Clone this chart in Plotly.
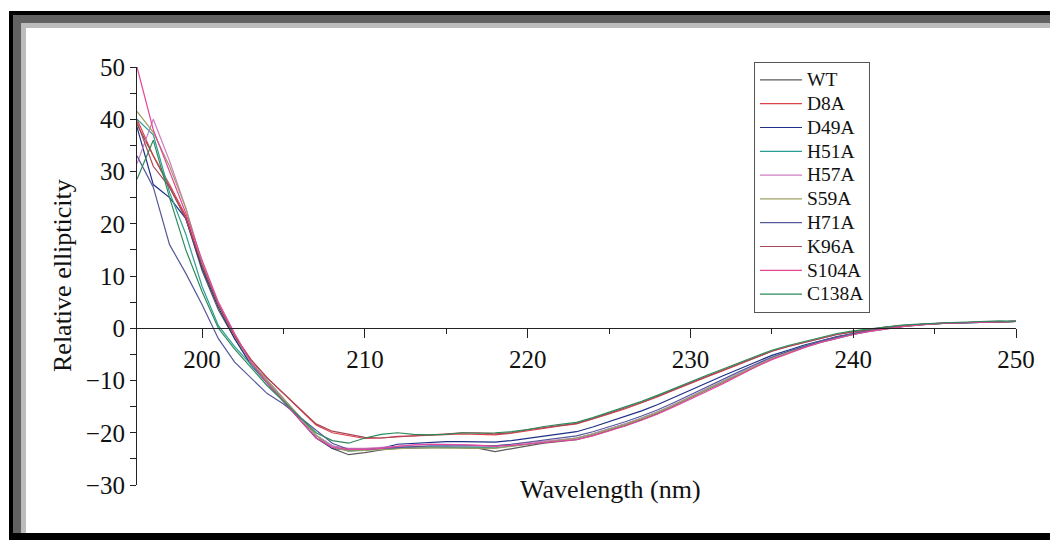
import plotly.graph_objects as go

wavelength = list(range(196, 251))

series_names = ["WT", "D8A", "D49A", "H51A", "H57A", "S59A", "H71A", "K96A", "S104A", "C138A"]
series_colors = ["#5a5a5a", "#e0404a", "#1e2f88", "#2a9e94", "#d07cc4", "#9ea064",
                 "#56589a", "#a84858", "#e2489c", "#2e8a5a"]

WT = [39, 33, 27, 21, 11, 3.5, -2, -6.5, -10, -13.5,
      -17, -20.5, -23, -24.2, -23.8, -23.3, -23, -22.9, -22.8, -22.8,
      -22.9, -23, -23.6, -23, -22.5, -22, -21.6, -21.3, -20.5, -19.6,
      -18.6, -17.5, -16.3, -14.8, -13.3, -11.8, -10.3, -8.8, -7.3, -5.9,
      -4.7, -3.6, -2.7, -1.9, -1.2, -0.6, -0.1, 0.3, 0.6, 0.9,
      1.0, 1.1, 1.2, 1.3, 1.3]
D8A = [40, 33, 27.5, 21.5, 12, 4.5, -1.5, -6, -9.5, -12.5,
       -15.5, -18.5, -20, -20.6, -21.1, -21, -20.7, -20.6, -20.5, -20.3,
       -20.2, -20.3, -20.4, -20.1, -19.6, -19.1, -18.7, -18.3, -17.4, -16.4,
       -15.4, -14.3, -13.1, -11.8, -10.5, -9.3, -8.1, -6.9, -5.6, -4.4,
       -3.5, -2.7, -1.9, -1.2, -0.7, -0.2, 0.2, 0.5, 0.7, 0.9,
       1.0, 1.1, 1.2, 1.3, 1.3]
D49A = [38.5, 27.5, 25, 21, 11.5, 4, -2, -7, -10.5, -14,
        -17.5, -21, -23, -23.3, -23.3, -23, -22.2, -22, -21.8, -21.7,
        -21.7, -21.8, -21.8, -21.5, -21.1, -20.6, -20.2, -19.8, -18.9, -17.9,
        -16.9, -15.8, -14.6, -13.2, -11.8, -10.4, -9.1, -7.8, -6.5, -5.2,
        -4.2, -3.2, -2.4, -1.6, -1.0, -0.4, 0.0, 0.4, 0.7, 0.9,
        1.0, 1.1, 1.2, 1.3, 1.3]
H51A = [40, 37, 26, 18, 8, 0.5, -3.5, -7, -10.5, -13.8,
        -17, -20.5, -22.5, -23.5, -23.3, -23, -22.8, -22.7, -22.7, -22.7,
        -22.8, -22.8, -22.9, -22.6, -22.2, -21.8, -21.4, -21, -20.2, -19.3,
        -18.3, -17.2, -16, -14.6, -13.1, -11.6, -10.1, -8.6, -7.1, -5.7,
        -4.5, -3.4, -2.5, -1.7, -1.0, -0.4, 0.0, 0.4, 0.7, 0.9,
        1.0, 1.1, 1.2, 1.3, 1.3]
H57A = [31.5, 40, 32, 23, 12.5, 4.5, -1.5, -6.5, -10, -13.5,
        -17, -20.5, -22.5, -23, -23, -22.8, -22.5, -22.3, -22.2, -22.2,
        -22.3, -22.4, -22.5, -22.2, -21.9, -21.6, -21.3, -21, -20.2, -19.3,
        -18.3, -17.2, -16, -14.6, -13.1, -11.6, -10.1, -8.6, -7.1, -5.7,
        -4.6, -3.5, -2.6, -1.8, -1.1, -0.5, 0.0, 0.4, 0.7, 0.9,
        1.0, 1.1, 1.2, 1.3, 1.3]
S59A = [41.5, 37.5, 31, 23, 12.5, 4.5, -1.5, -6.5, -10, -13.5,
        -17, -20.5, -22.8, -23.5, -23.4, -23.2, -23, -22.9, -22.9, -22.9,
        -22.9, -22.9, -23, -22.6, -22.2, -21.8, -21.4, -21, -20.3, -19.4,
        -18.4, -17.3, -16.1, -14.7, -13.2, -11.7, -10.2, -8.7, -7.2, -5.8,
        -4.6, -3.5, -2.6, -1.8, -1.1, -0.5, 0.0, 0.4, 0.7, 0.9,
        1.0, 1.1, 1.2, 1.3, 1.3]
H71A = [33, 27, 16, 10.5, 4.5, -2, -6.5, -9.5, -12.5, -14.5,
        -17, -19.5, -22, -23.2, -23.2, -23, -22.8, -22.6, -22.5, -22.5,
        -22.5, -22.5, -22.5, -22.2, -21.8, -21.4, -21, -20.6, -19.8, -18.9,
        -17.9, -16.8, -15.6, -14.2, -12.7, -11.2, -9.7, -8.3, -6.9, -5.5,
        -4.4, -3.4, -2.5, -1.7, -1.0, -0.4, 0.0, 0.4, 0.7, 0.9,
        1.0, 1.1, 1.2, 1.3, 1.3]
K96A = [39.5, 31, 27, 21, 12, 4.5, -1.5, -6, -9.5, -12.5,
        -15.5, -18.3, -19.7, -20.3, -20.9, -21, -20.8, -20.6, -20.4, -20.2,
        -20.0, -20.0, -20.2, -20.0, -19.4, -19.0, -18.6, -18.2, -17.3, -16.3,
        -15.3, -14.2, -13.0, -11.7, -10.4, -9.2, -8.0, -6.8, -5.5, -4.4,
        -3.5, -2.7, -1.9, -1.2, -0.7, -0.2, 0.2, 0.5, 0.7, 0.9,
        1.0, 1.1, 1.2, 1.3, 1.3]
S104A = [50, 38, 30, 22, 13, 5, -1, -6.5, -10.5, -14,
         -17.5, -21, -22.8, -23.2, -23.2, -23, -22.6, -22.3, -22.2, -22.2,
         -22.3, -22.4, -22.6, -22.4, -22.1, -21.8, -21.5, -21.3, -20.6, -19.7,
         -18.7, -17.6, -16.4, -15, -13.6, -12.1, -10.6, -9.0, -7.4, -6.0,
         -4.8, -3.7, -2.7, -1.9, -1.2, -0.6, -0.1, 0.3, 0.6, 0.9,
         1.0, 1.1, 1.2, 1.3, 1.3]
C138A = [28.5, 36, 25, 15, 7, 0, -4, -7.5, -11, -14,
         -17, -20, -21.5, -22, -21, -20.3, -20, -20.3, -20.4, -20.3,
         -20.0, -20.1, -20.0, -19.8, -19.4, -18.8, -18.4, -18.0, -17.1, -16.1,
         -15.1, -14.0, -12.8, -11.5, -10.2, -9.0, -7.8, -6.6, -5.4, -4.2,
         -3.3, -2.5, -1.7, -1.0, -0.5, -0.1, 0.3, 0.6, 0.8, 1.0,
         1.1, 1.2, 1.3, 1.4, 1.3]

series_values = [WT, D8A, D49A, H51A, H57A, S59A, H71A, K96A, S104A, C138A]

x_range = [196, 250]
y_range = [-30, 50]
x_ticks = [200, 210, 220, 230, 240, 250]
y_ticks = [-30, -20, -10, 0, 10, 20, 30, 40, 50]

# page body adds an 8px offset; lay the figure out in window pixels
OFF = 8
W, H = 1058 - OFF, 540 - OFF
PLOT_L, PLOT_R, PLOT_T, PLOT_B = 137, 1016, 67, 485
ML, MR = PLOT_L - OFF, W - (PLOT_R - OFF)
MT, MB = PLOT_T - OFF, H - (PLOT_B - OFF)
PW, PH = W - ML - MR, H - MT - MB
FONT = "Liberation Serif, Times New Roman, serif"


def px2x(px):
    return (px - OFF - ML) / PW


def px2y(py):
    return (H - MB - (py - OFF)) / PH


fig = go.Figure()
for name, color, vals in zip(series_names, series_colors, series_values):
    fig.add_trace(go.Scatter(x=wavelength, y=vals, mode="lines",
                             name="<span style='font-size:19.5px'>" + name + "</span>",
                             line=dict(color=color, width=1.2)))

shapes = []
for (x0, y0, x1, y1, c) in [(9, 11, 1070, 552, "#000000"),
                            (13, 15, 1054, 533, "#626262"),
                            (21, 23, 1054, 533, "#bcbcbc"),
                            (26, 28, 1054, 533, "#ffffff")]:
    shapes.append(dict(type="rect", xref="paper", yref="paper",
                       x0=px2x(x0), x1=px2x(x1), y0=px2y(y1), y1=px2y(y0),
                       fillcolor=c, line=dict(width=0), layer="below"))

fig.update_layout(
    width=W, height=H,
    margin=dict(l=ML, r=MR, t=MT, b=MB),
    paper_bgcolor="white", plot_bgcolor="rgba(0,0,0,0)",
    font=dict(family=FONT, size=24, color="#111"),
    shapes=shapes,
    showlegend=True,
    legend=dict(x=px2x(754), y=px2y(62), xanchor="left", yanchor="top",
                bgcolor="white", bordercolor="#555", borderwidth=1,
                font=dict(family=FONT, size=16, color="#111"),
                tracegroupgap=0, itemwidth=42, maxheight=400),
    xaxis=dict(range=x_range, tickvals=x_ticks, showgrid=False, zeroline=False,
               showline=True, linecolor="#222", linewidth=1.2,
               ticks="outside", ticklen=9, tickwidth=1.2, tickcolor="#222",
               minor=dict(dtick=5, tick0=195, ticks="outside", ticklen=5,
                          tickwidth=1.2, tickcolor="#222", showgrid=False),
               anchor="free", position=(0 - y_range[0]) / (y_range[1] - y_range[0]),
               tickfont=dict(family=FONT, size=25, color="#111")),
    yaxis=dict(range=y_range, tickvals=y_ticks, showgrid=False, zeroline=False,
               showline=True, linecolor="#222", linewidth=1.2,
               ticks="outside", ticklen=6, tickwidth=1.2, tickcolor="#222",
               minor=dict(dtick=5, tick0=0, ticks="outside", ticklen=6,
                          tickwidth=1.2, tickcolor="#222", showgrid=False),
               tickfont=dict(family=FONT, size=25, color="#111")),
    annotations=[
        dict(text="Wavelength (nm)", xref="paper", yref="paper",
             x=px2x(610), y=px2y(490), xanchor="center", yanchor="middle",
             showarrow=False, font=dict(family=FONT, size=26, color="#111")),
        dict(text="Relative ellipticity", xref="paper", yref="paper",
             x=px2x(62), y=px2y(276), xanchor="center", yanchor="middle",
             textangle=-90, showarrow=False,
             font=dict(family=FONT, size=26, color="#111")),
    ],
)

fig.write_html("out.html")
